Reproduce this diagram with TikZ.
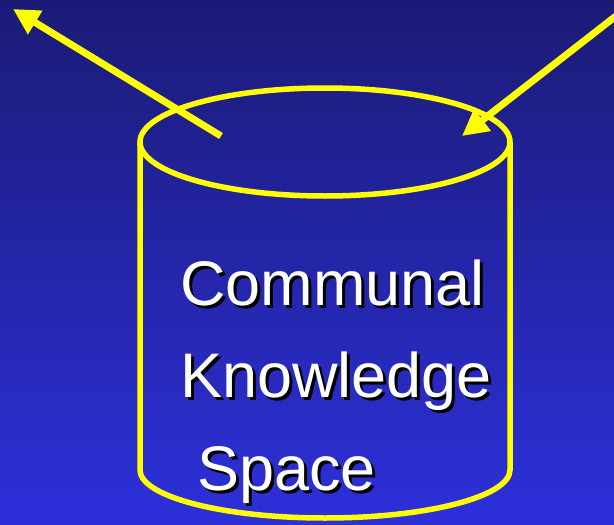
\documentclass[tikz,border=0pt]{standalone}
\usepackage{fontspec}
\setmainfont{Liberation Sans}
\usetikzlibrary{arrows.meta}
\usetikzlibrary{math}
\definecolor{BgTop}{RGB}{27,27,118}
\definecolor{BgBottom}{RGB}{45,48,218}
\definecolor{CylYellow}{RGB}{255,255,0}
\newcommand{\BigFont}{\fontsize{63}{63}\selectfont}
% white word with a black drop shadow
\newcommand{\ShadowWord}[1]{%
    \makebox[0pt][l]{\hspace{3pt}\raisebox{-3pt}{\color{black}#1}}#1}

\begin{document}
\begin{tikzpicture}[x=1pt, y=-1pt,
    wordtext/.style={anchor=base west, inner sep=0pt, text=white, font=\BigFont},
    ]

% Position settings
\tikzmath{
    \CylX = 325;
    \CylRx = 185;
    \TopY = 142;
    \TopRy = 54;
    \BotY = 470;
    \BotRy = 48;
}

% Background
\shade [top color=BgTop, bottom color=BgBottom] (0,0) rectangle (614,525);
\useasboundingbox (0,0) rectangle (614,525);

\coordinate (TopC) at (\CylX, \TopY);
\coordinate (SideL) at (\CylX - \CylRx, \TopY);
\coordinate (SideR) at (\CylX + \CylRx, \TopY);
\coordinate (BaseL) at (\CylX - \CylRx, \BotY);
\coordinate (BaseR) at (\CylX + \CylRx, \BotY);

\coordinate (OutStart) at (221, 136);
\coordinate (OutEnd) at (13, 9);
\coordinate (InStart) at (616, 16);
\coordinate (InEnd) at (462, 136);

% Cylinder
\begin{scope}[CylYellow, line width=5.5pt]
    \draw (TopC) ellipse [x radius=\CylRx, y radius=\TopRy];
    \draw (SideL) -- (BaseL)
        arc [start angle=180, end angle=360, x radius=\CylRx, y radius=-\BotRy]
        -- (SideR);
\end{scope}

% Arrows
\begin{scope}[CylYellow, line width=7pt, -{Triangle[length=26pt, width=26pt]}]
    \draw (OutStart) -- (OutEnd);
    \draw (InStart) -- (InEnd);
\end{scope}

% Label
\node [wordtext] (Comm) at (180, 305) {\ShadowWord{Communal}};
\node [wordtext] (Know) at (180, 397) {\ShadowWord{Knowledge}};
\node [wordtext] (Space) at (197, 490) {\ShadowWord{Space}};

\end{tikzpicture}
\end{document}
